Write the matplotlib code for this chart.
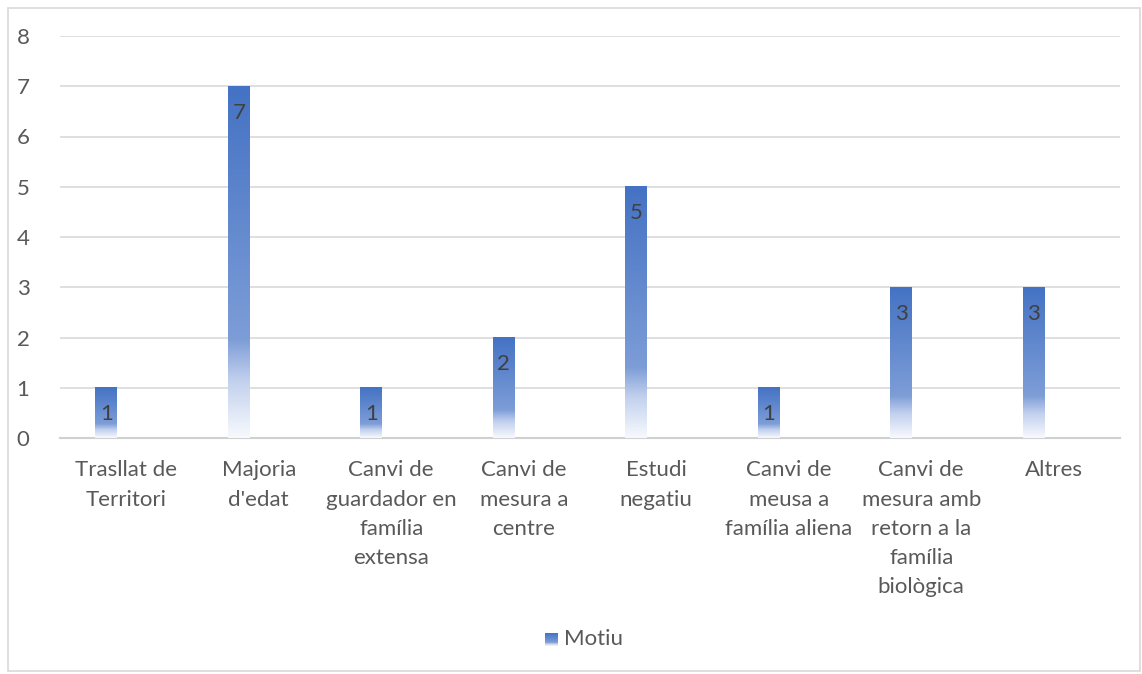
import numpy as np
import matplotlib
matplotlib.use("Agg")
import matplotlib.pyplot as plt
from matplotlib.colors import LinearSegmentedColormap
from matplotlib.patches import Rectangle

categories = ["Trasllat de\nTerritori", "Majoria\nd'edat", "Canvi de\nguardador en\nfamília\nextensa",
              "Canvi de\nmesura a\ncentre", "Estudi\nnegatiu", "Canvi de\nmeusa a\nfamília aliena",
              "Canvi de\nmesura amb\nretorn a la\nfamília\nbiològica", "Altres"]
values = [1, 7, 1, 2, 5, 1, 3, 3]
series_name = "Motiu"

plt.rcParams['font.family'] = ['Lato', 'DejaVu Sans']

fig = plt.figure(figsize=(11.42, 6.74), dpi=100)
ax = fig.add_axes([60/1142, 1 - 438/674, 1060/1142, (438-36)/674])

# gradient like the excel fill: dark at top, white at bottom
grad = LinearSegmentedColormap.from_list("g", [(0, "#4472C4"), (0.72, "#7D9DD7"),
                                              (0.84, "#C3D1EE"), (1.0, "#F7F9FD")])
x = np.arange(len(categories))
off = -0.15
w = 0.166
bars = ax.bar(x + off, values, width=w, color="none", zorder=3)
g = np.linspace(0, 1, 256).reshape(-1, 1)
for b in bars:
    x0, y0 = b.get_x(), b.get_y()
    ax.imshow(g, cmap=grad, aspect="auto", extent=(x0, x0 + b.get_width(), y0, y0 + b.get_height()),
              origin="upper", zorder=3, interpolation="bilinear")
for xi, v in zip(x, values):
    ax.annotate(str(v), (xi + off, v), xytext=(0, -19), textcoords="offset points",
                ha="center", va="center", fontsize=16, color="#404040", zorder=4)

ax.set_xlim(-0.5, len(categories) - 0.5)
ax.set_ylim(0, 8)
ax.set_yticks(range(0, 9))
ax.set_xticks(x)
ax.set_xticklabels(categories, linespacing=1.58)
ax.tick_params(axis="both", length=0, labelsize=16, labelcolor="#595959")
ax.tick_params(axis="y", pad=22)
ax.tick_params(axis="x", pad=16)
for lbl in ax.get_xticklabels():
    lbl.set_verticalalignment("top")
ax.grid(axis="y", color="#D9D9D9", linewidth=1.2, zorder=0)
ax.set_axisbelow(True)
for s in ["left", "right", "top"]:
    ax.spines[s].set_visible(False)
ax.spines["bottom"].set_color("#D0D0D0")
ax.spines["bottom"].set_linewidth(1.5)

# legend
lx, ly = 545/1142, 1 - 646/674
lax = fig.add_axes([lx, ly, 13/1142, 13/674])
lax.imshow(g, cmap=grad, aspect="auto", interpolation="bilinear")
lax.axis("off")
fig.text(564/1142, 1 - 639/674, series_name, fontsize=16, color="#595959", va="center", ha="left")

fig.patches.append(Rectangle((8/1142, 3/674), 1132/1142, 663/674, transform=fig.transFigure,
                             fill=False, edgecolor="#D9D9D9", linewidth=1.2))

fig.savefig("out.png", dpi=100)
